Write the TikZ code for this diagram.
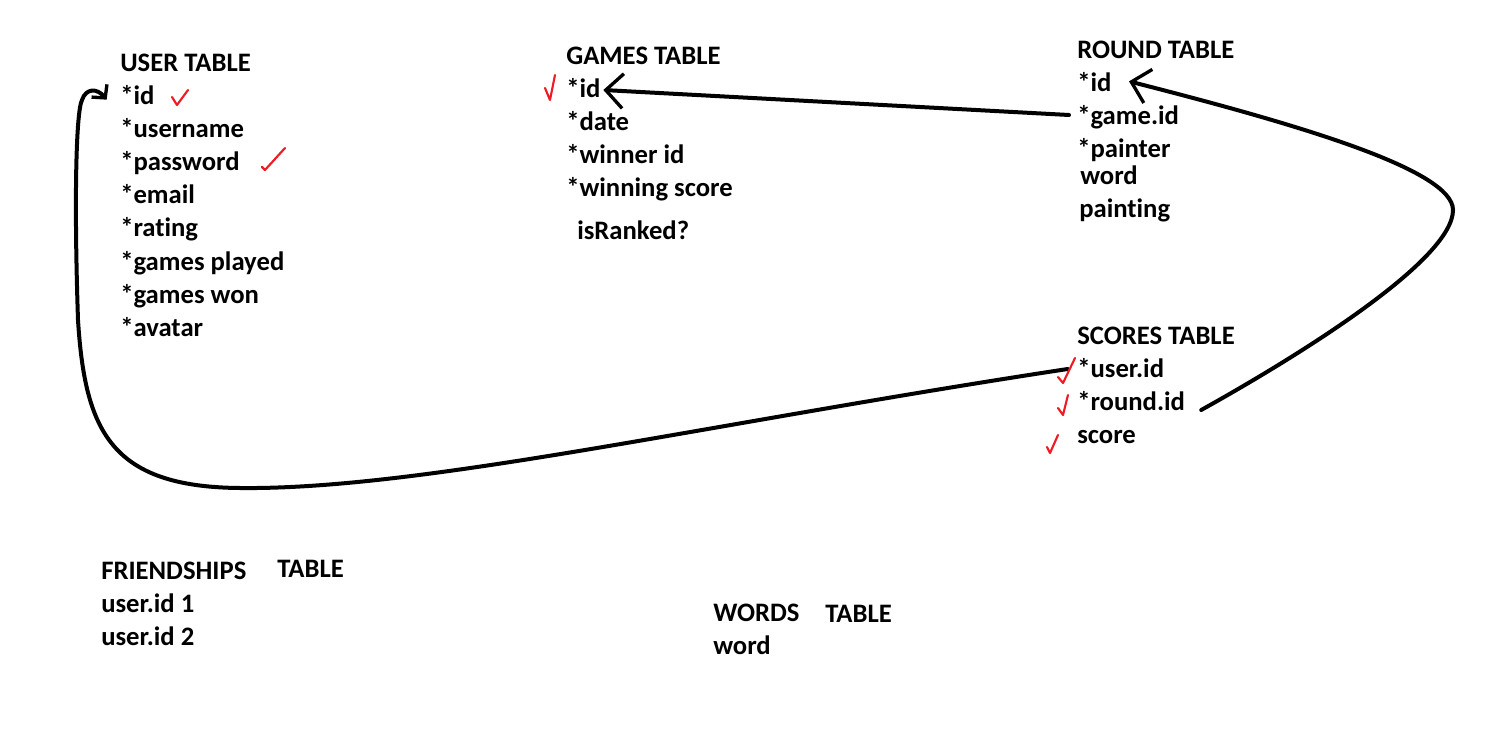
\documentclass[tikz,border=0pt]{standalone}
\usepackage{fontspec}
\setmainfont{Carlito}[Ligatures=NoCommon]
\usetikzlibrary{arrows.meta}
\definecolor{tickred}{RGB}{237,28,36}

\begin{document}
\begin{tikzpicture}[x=0.75pt, y=-0.75pt, line cap=round, line join=round,
    field/.style={anchor=west, inner sep=0pt, font=\fontsize{20}{24}\selectfont\bfseries, text height=1.3em, text depth=0.1em},
    link/.style={line width=3pt, -{Straight Barb[length=13pt, width=26pt, line width=2.5pt]}},
    hook/.style={-{Straight Barb[length=7pt, width=15pt, line width=2.5pt]}},
    tick/.style={tickred, line width=1.6pt}]

    \useasboundingbox (0, 0) rectangle (1485, 738);

    % Nodes for the user table
    \node at (120, 64) (user) [field] {USER TABLE};
    \node at (120, 97) (uid) [field] {*id};
    \node at (120, 130) (uname) [field] {*username};
    \node at (120, 163) (upass) [field] {*password};
    \node at (120, 196) (umail) [field] {*email};
    \node at (120, 229) (urating) [field] {*rating};
    \node at (120, 262) (uplayed) [field] {*games played};
    \node at (120, 295) (uwon) [field] {*games won};
    \node at (120, 328) (uavatar) [field] {*avatar};

    % Nodes for the games table
    \node at (566, 57) (games) [field] {GAMES TABLE};
    \node at (566, 90) (gid) [field] {*id};
    \node at (566, 123) (gdate) [field] {*date};
    \node at (566, 156) (gwinner) [field] {*winner id};
    \node at (566, 189) (gscore) [field] {*winning score};
    \node at (577, 231) (granked) [field] {isRanked?};

    % Nodes for the round table
    \node at (1077, 51) (round) [field] {ROUND TABLE};
    \node at (1077, 84) (rid) [field] {*id};
    \node at (1077, 117) (rgame) [field] {*game.id};
    \node at (1077, 150) (rpainter) [field] {*painter};
    \node at (1080, 177) (rword) [field] {word};
    \node at (1079, 210) (rpainting) [field] {painting};

    % Nodes for the scores table
    \node at (1077, 336) (scores) [field] {SCORES TABLE};
    \node at (1077, 369) (suser) [field] {*user.id};
    \node at (1077, 402) (sround) [field] {*round.id};
    \node at (1077, 435) (sscore) [field] {score};

    % Nodes for the friendships table
    \node at (101, 571) (friends) [field] {FRIENDSHIPS};
    \node at (277, 569) (friendst) [field] {TABLE};
    \node at (101, 604) (fuser1) [field] {user.id 1};
    \node at (101, 637) (fuser2) [field] {user.id 2};

    % Nodes for the words table
    \node at (713, 613) (words) [field] {WORDS};
    \node at (825, 614) (wordst) [field] {TABLE};
    \node at (713, 646) (wword) [field] {word};

    % Arrows between tables
    \draw[link] ([xshift=-6pt, yshift=1.5pt]rgame.west) -- ([xshift=2pt]gid.east);
    \draw[link] ([xshift=12pt, yshift=-6pt]sround.east) .. controls (1300, 355) and (1453, 260) .. (1453, 210)
        .. controls (1453, 170) and (1300, 125) .. ([xshift=13pt, yshift=2pt]rid.east);
    \draw[link, hook] ([xshift=-7pt]suser.west) .. controls (700, 425) and (420, 490) .. (240, 488)
        .. controls (110, 487) and (85, 430) .. (78, 320)
        .. controls (74, 200) and (76, 112) .. (82, 100)
        .. controls (86, 88) and (97, 88) .. ([xshift=-10pt, yshift=-2pt]uid.west);

    % Red ticks
    \draw[tick] (172, 97) -- (177, 105) -- (188, 90);
    \draw[tick] (262, 167) -- (265, 170) -- (285, 148);
    \draw[tick] (545, 88) -- (550, 100) -- (555, 75);
    \draw[tick] (1058, 377) -- (1063, 383) -- (1075, 358);
    \draw[tick] (1058, 408) -- (1063, 415) -- (1068, 395);
    \draw[tick] (1047, 447) -- (1050, 453) -- (1058, 435);

\end{tikzpicture}
\end{document}
